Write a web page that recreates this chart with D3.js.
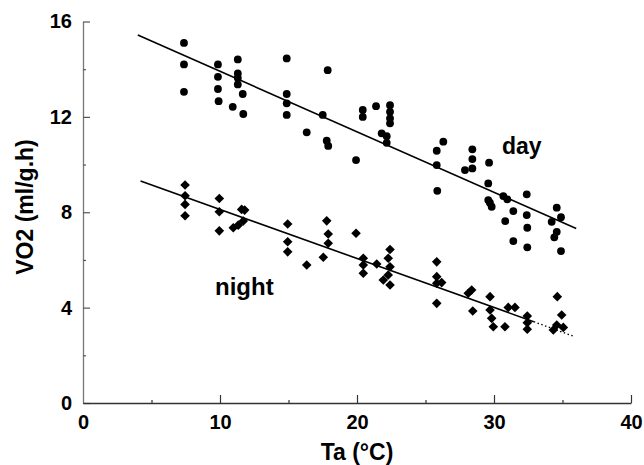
<!DOCTYPE html>
<html>
<head>
<meta charset="utf-8">
<script src="https://cdn.jsdelivr.net/npm/d3@7"></script>
<style>
  html, body { margin: 0; padding: 0; background: #fff; }
  svg { display: block; }
  text { font-family: "Liberation Sans", Arial, sans-serif; font-weight: bold; fill: #000; }
</style>
</head>
<body>
<svg id="chart" width="644" height="465"></svg>
<script>
// ---- data ----
const dayT = [7.37,7.37,7.37, 9.85,9.85,9.85,9.9, 11.3,11.3,11.3,11.3,11.66,10.93,11.7,
  14.87,14.87,14.87,14.87, 17.86,16.33,17.5,17.79,17.9, 19.93,20.42,20.42,21.39,
  22.41,22.41,22.41,22.41,21.8,22.17,22.17,
  25.82,25.82,25.86,26.3, 28.42,28.42,28.42,27.88, 29.64,29.58,29.58,29.7,29.83,
  30.68,30.97,32.39,31.41,30.82,32.39,32.43,32.43,31.41,
  34.58,34.89,34.21,34.58,34.4,34.89];
const dayV = [15.1,14.2,13.05, 14.2,13.68,13.17,12.66, 14.41,13.82,13.63,13.36,12.96,12.42,12.12,
  14.45,12.96,12.57,12.08, 13.96,11.35,12.08,11.0,10.78, 10.19,12.29,12.0,12.45,
  12.49,12.21,11.94,11.73,11.31,11.19,10.91,
  10.58,9.98,8.9,10.96, 10.64,10.23,9.84,9.77, 10.08,9.21,8.51,8.4,8.23,
  8.68,8.54,8.75,8.05,7.63,7.88,7.35,6.53,6.79,
  8.19,7.79,7.6,7.18,6.95,6.37];

const nightT = [7.45,7.45,7.45,7.45, 9.95,9.95,9.95, 11.58,11.8,11.7,11.33,10.97,
  14.94,14.94,14.94, 17.79,17.9,17.9,17.54, 16.33, 19.93,
  20.46,20.46,20.46,21.44, 22.41,22.28,22.41,22.28,21.92,22.41,
  25.82,25.82,25.82,25.82,26.18, 28.37,28.12,28.45,
  29.71,29.71,29.83,29.95,30.8, 31.04,31.53, 32.43,32.43,32.43,
  34.62,34.94,34.58,34.33,35.06];
const nightV = [9.14,8.69,8.33,7.85, 8.58,8.02,7.22, 8.12,8.09,7.63,7.46,7.35,
  7.51,6.76,6.34, 7.64,7.09,6.7,6.11, 5.79, 7.12,
  6.07,5.79,5.44,5.83, 6.44,6.07,5.71,5.37,5.16,4.95,
  5.92,5.3,5.02,4.18,5.05, 4.74,4.6,3.86,
  4.46,3.9,3.55,3.2,3.2, 4.01,4.01, 3.65,3.37,3.09,
  4.46,3.69,3.27,3.06,3.17];

// fitted regression lines (end points)
const dayFitT = [4.0, 36.0];
const dayFitV = [15.43, 7.32];
const nightFitSolidT = [4.2, 32.9];
const nightFitSolidV = [9.31, 3.41];
const nightFitDotT = [32.9, 35.9];
const nightFitDotV = [3.41, 2.78];

const xMajor = [0, 10, 20, 30, 40];
const xMinor = [5, 15, 25, 35];
const yMajor = [0, 4, 8, 12, 16];
const yMinor = [2, 6, 10, 14];

// ---- drawing ----
const svg = d3.select("#chart");
const x = d3.scaleLinear().domain([0, 40]).range([83, 631]);
const y = d3.scaleLinear().domain([0, 16]).range([403, 21.5]);

// y axis
const gy = svg.append("g").attr("transform", `translate(${x(0)},0)`)
  .call(d3.axisLeft(y).tickValues(yMajor).tickSizeInner(-7).tickSizeOuter(0).tickPadding(11));
gy.select(".domain").attr("stroke", "#777").attr("stroke-width", 1.3);
gy.selectAll(".tick line").attr("stroke", "#555").attr("stroke-width", 1.2);
gy.selectAll(".tick text").style("font-size", "20px").attr("fill", "#000");
svg.append("g").attr("transform", `translate(${x(0)},0)`)
  .call(d3.axisLeft(y).tickValues(yMinor).tickSizeInner(-3).tickSizeOuter(0).tickFormat(""))
  .call(g => g.select(".domain").remove())
  .selectAll(".tick line").attr("stroke", "#555").attr("stroke-width", 1.2);

// x axis
const gx = svg.append("g").attr("transform", `translate(0,${y(0)})`)
  .call(d3.axisBottom(x).tickValues(xMajor).tickSizeInner(-8).tickSizeOuter(0).tickPadding(12));
gx.select(".domain").attr("stroke", "#333").attr("stroke-width", 1.3);
gx.selectAll(".tick line").attr("stroke", "#333").attr("stroke-width", 1.2)
  .filter(d => d === 0).remove();
gx.selectAll(".tick text").style("font-size", "20px").attr("fill", "#000");
svg.append("g").attr("transform", `translate(0,${y(0)})`)
  .call(d3.axisBottom(x).tickValues(xMinor).tickSizeInner(-3).tickSizeOuter(0).tickFormat(""))
  .call(g => g.select(".domain").remove())
  .selectAll(".tick line").attr("stroke", "#333").attr("stroke-width", 1.2);

// axis titles
svg.append("text")
  .attr("transform", `translate(33,207) rotate(-90)`)
  .attr("text-anchor", "middle")
  .style("font-size", "23px")
  .text("VO2 (ml/g.h)");
svg.append("text")
  .attr("x", 357).attr("y", 460)
  .attr("text-anchor", "middle")
  .style("font-size", "23px")
  .text("Ta (°C)");

// regression lines
const line = d3.line().x(d => x(d[0])).y(d => y(d[1]));
svg.append("path").datum(d3.zip(dayFitT, dayFitV))
  .attr("d", line).attr("fill", "none").attr("stroke", "#000").attr("stroke-width", 1.6);
svg.append("path").datum(d3.zip(nightFitSolidT, nightFitSolidV))
  .attr("d", line).attr("fill", "none").attr("stroke", "#000").attr("stroke-width", 1.6);
svg.append("path").datum(d3.zip(nightFitDotT, nightFitDotV))
  .attr("d", line).attr("fill", "none").attr("stroke", "#000").attr("stroke-width", 1.3)
  .attr("stroke-dasharray", "1.5,2.5");

// day points (circles)
svg.append("g").selectAll("circle").data(d3.zip(dayT, dayV)).join("circle")
  .attr("cx", d => x(d[0])).attr("cy", d => y(d[1])).attr("r", 3.9).attr("fill", "#000");

// night points (diamonds)
const diamond = d3.symbol().type(d3.symbolSquare).size(46);
svg.append("g").selectAll("path").data(d3.zip(nightT, nightV)).join("path")
  .attr("d", diamond)
  .attr("transform", d => `translate(${x(d[0])},${y(d[1])}) rotate(45)`)
  .attr("fill", "#000");

// series labels
svg.append("text").attr("x", 502).attr("y", 154).style("font-size", "23px").text("day");
svg.append("text").attr("x", 215).attr("y", 295).style("font-size", "24px").text("night");
</script>
</body>
</html>
